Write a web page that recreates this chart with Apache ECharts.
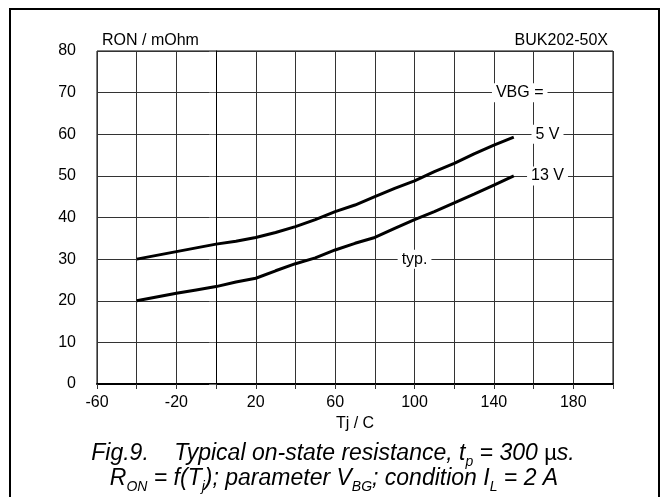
<!DOCTYPE html>
<html>
<head>
<meta charset="utf-8">
<script src="https://cdn.jsdelivr.net/npm/echarts@6/dist/echarts.min.js"></script>
<style>html,body{margin:0;padding:0;background:#fff}#c{width:665px;height:497px}</style>
</head>
<body>
<div id="c"></div>
<script>
// Junction temperature Tj / C
const temps = [-40,-30,-20,-10,0,10,20,30,40,50,60,70,80,90,100,110,120,130,140,150];
// RON / mOhm for VBG = 5 V
const ron5V = [30,30.9,31.8,32.7,33.6,34.3,35.2,36.4,37.8,39.5,41.4,43.0,45.0,47.0,48.8,51.0,53.0,55.3,57.4,59.3];
// RON / mOhm for VBG = 13 V
const ron13V = [20,20.9,21.8,22.6,23.4,24.5,25.4,27.2,28.9,30.3,32.2,33.8,35.2,37.4,39.5,41.4,43.5,45.6,47.8,50.0];
// annotation labels [Tj, RON, text]
const notes = [[153,70,'VBG ='],[167,60,'5 V'],[167,50,'13 V'],[100,30,'typ.']];
const xTicks = {min:-60, max:200, step:20};
const yTicks = {min:0, max:80, step:10};

const FONT = "'Liberation Sans', Arial, sans-serif";
const chart = echarts.init(document.getElementById('c'), null, {renderer:'canvas'});
const pair = arr => temps.map((t,i)=>[t,arr[i]]);
const lineStyle = {color:'#000', width:3};
const CS = 23;
const rich = {
  n:{fontFamily:FONT,fontStyle:'italic',fontSize:CS,color:'#000',lineHeight:26,verticalAlign:'bottom'},
  u:{fontFamily:FONT,fontSize:CS-1,color:'#000',lineHeight:26,verticalAlign:'bottom'},
  s:{fontFamily:FONT,fontStyle:'italic',fontSize:14,color:'#000',lineHeight:18,verticalAlign:'bottom',padding:[0,0,-4,0]}
};

chart.setOption({
  animation:false,
  backgroundColor:'#fff',
  textStyle:{fontFamily:FONT},
  title:[
    {text:'RON / mOhm', left:97, top:28, textStyle:{fontFamily:FONT,fontSize:16,fontWeight:'normal',color:'#000'}},
    {text:'BUK202-50X', right:52, top:28, textStyle:{fontFamily:FONT,fontSize:16,fontWeight:'normal',color:'#000'}}
  ],
  grid:{left:97, right:52, top:51, bottom:113, show:true, borderColor:'#000', borderWidth:1},
  xAxis:{
    type:'value', min:xTicks.min, max:xTicks.max, interval:xTicks.step,
    name:'Tj / C', nameLocation:'middle', nameGap:30,
    nameTextStyle:{fontFamily:FONT,fontSize:16,color:'#000'},
    axisLine:{show:true,onZero:false,lineStyle:{color:'#000',width:2}},
    axisTick:{show:true,length:5,lineStyle:{color:'#333'}},
    axisLabel:{fontFamily:FONT,fontSize:16,color:'#000',margin:11,
      formatter:v=>((v-xTicks.min)%40===0 && v<xTicks.max)?String(v):''},
    splitLine:{show:true,lineStyle:{color:'#333',width:1}}
  },
  yAxis:{
    type:'value', min:yTicks.min, max:yTicks.max, interval:yTicks.step,
    axisLine:{show:true,lineStyle:{color:'#000',width:1}},
    axisTick:{show:true,inside:false,length:7,lineStyle:{color:'#666'}},
    axisLabel:{fontFamily:FONT,fontSize:16,color:'#000',margin:21},
    splitLine:{show:true,lineStyle:{color:'#333',width:1}}
  },
  series:[
    {type:'line', name:'5 V', data:pair(ron5V), showSymbol:false, symbol:'none', lineStyle, z:3},
    {type:'line', name:'13 V', data:pair(ron13V), showSymbol:false, symbol:'none', lineStyle, z:3},
    {type:'scatter', data:notes, symbolSize:0, z:5, silent:true, itemStyle:{opacity:1},
      label:{show:true, position:'inside', formatter:p=>p.value[2], fontFamily:FONT, fontSize:16, color:'#000', opacity:1,
        textBorderWidth:0, textShadowBlur:0, backgroundColor:'#fff', padding:[2,4,1,4]}}
  ],
  graphic:[
    {type:'rect', shape:{x:10,y:9,width:649,height:520}, style:{fill:'none',stroke:'#000',lineWidth:2}, z:10},
    {type:'text', x:333, y:439, z:10, style:{
      text:'{n|Fig.9.    Typical on-state resistance, t}{s|p}{n| = 300 }{u|µ}{n|s.}',
      align:'center', rich}},
    {type:'text', x:334, y:464, z:10, style:{
      text:'{n|R}{s|ON}{n| = f(T}{s|j}{n|); parameter V}{s|BG}{n|; condition I}{s|L}{n| = 2 A}',
      align:'center', rich}}
  ]
});
</script>
</body>
</html>
